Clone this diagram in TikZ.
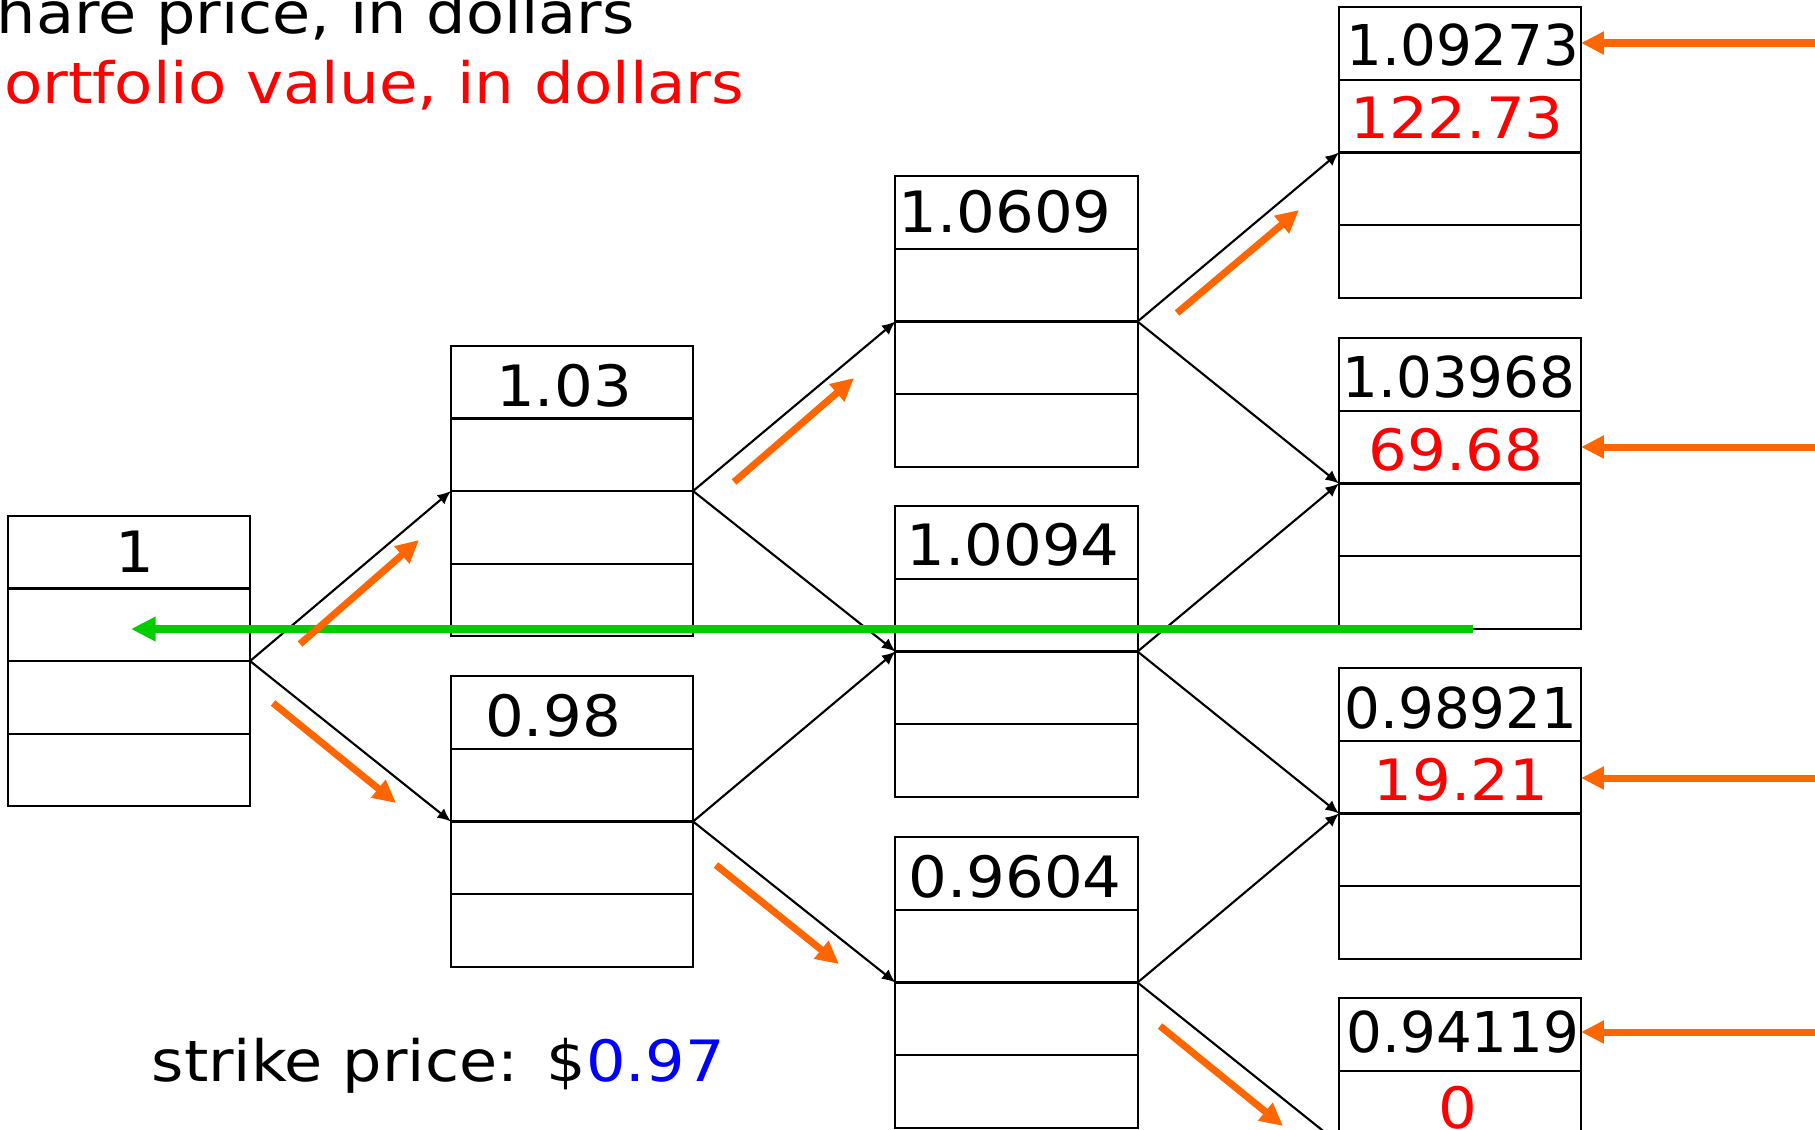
\documentclass[tikz,border=0pt]{standalone}
\usepackage{fontspec}
\setmainfont[FakeStretch=1.09]{DejaVu Sans}
\newfontfamily\numfont[FakeStretch=1.07]{DejaVu Sans}
\newfontfamily\numfontwide[FakeStretch=1.0]{DejaVu Sans}
\newfontfamily\redlblfont[FakeStretch=1.1]{DejaVu Sans}
\usetikzlibrary{calc,arrows.meta}
\definecolor{myorange}{RGB}{255,102,0}
\definecolor{mygreen}{RGB}{0,204,0}
\definecolor{myred}{RGB}{255,0,0}
\definecolor{myblue}{RGB}{0,0,255}
\begin{document}
\begin{tikzpicture}[x=0.01cm,y=-0.01cm,
  font=\fontsize{16.2pt}{19pt}\selectfont,
  box/.style={draw, line width=0.6pt, minimum width=2.42cm, minimum height=2.9cm, inner sep=0pt, outer sep=0pt},
  rowline/.style={line width=0.6pt},
  num/.style={inner sep=0pt, font=\fontsize{16.2pt}{19pt}\numfont},
  numw/.style={inner sep=0pt, font=\fontsize{16pt}{19pt}\numfontwide},
  link/.style={line width=0.6pt, -{Latex[length=3.8pt,width=3.4pt]}},
  oarrow/.style={myorange, line width=2pt, -{Triangle[length=6.5pt,width=6.2pt]}},
  garrow/.style={mygreen, line width=2.2pt, -{Triangle[length=7pt,width=6.6pt]}},
  lbl/.style={inner sep=0pt, anchor=base west}]
\useasboundingbox (0,0) rectangle (1815,1129);

% boxes
\node[box] (b0)  at (129,661) {};
\node[box] (b1u) at (572,491) {};
\node[box] (b1d) at (572,821.5) {};
\node[box] (b2u) at (1016.5,321.5) {};
\node[box] (b2m) at (1016.5,651.5) {};
\node[box] (b2d) at (1016.5,982.5) {};
\node[box] (b3a) at (1460,152.5) {};
\node[box] (b3b) at (1460,483.5) {};
\node[box] (b3c) at (1460,813.5) {};
\node[box] (b3d) at (1460,1143.5) {};
\foreach \n in {b0,b1u,b1d,b2u,b2m,b2d,b3a,b3b,b3c,b3d}
  \foreach \f in {0.25,0.5,0.75}
    \draw[rowline] ($(\n.north west)!\f!(\n.south west)$) -- ($(\n.north east)!\f!(\n.south east)$);

% share prices
\node[num] (t0)  at (135,552) {1};
\node[num] (t1u) at (564,386) {1.03};
\node[num] (t1d) at (553,716) {0.98};
\node[num] (t2u) at (1005,212) {1.0609};
\node[num] (t2m) at (1013,545) {1.0094};
\node[num] (t2d) at (1015,877) {0.9604};
\node[numw] (t3a) at (1463,45) {1.09273};
\node[numw] (t3b) at (1459,377) {1.03968};
\node[numw] (t3c) at (1461,708) {0.98921};
\node[numw] (t3d) at (1463,1032) {0.94119};
% portfolio values
\node[num, text=myred] (v3a) at (1457,118) {122.73};
\node[num, text=myred] (v3b) at (1456,450) {69.68};
\node[num, text=myred] (v3c) at (1461,780) {19.21};
\node[num, text=myred] (v3d) at (1458,1108) {0};

% tree links
\draw[link] (b0.east) -- (b1u.west);
\draw[link] (b0.east) -- (b1d.west);
\draw[link] (b1u.east) -- (b2u.west);
\draw[link] (b1u.east) -- (b2m.west);
\draw[link] (b1d.east) -- (b2m.west);
\draw[link] (b1d.east) -- (b2d.west);
\draw[link] (b2u.east) -- (b3a.west);
\draw[link] (b2u.east) -- (b3b.west);
\draw[link] (b2m.east) -- (b3b.west);
\draw[link] (b2m.east) -- (b3c.west);
\draw[link] (b2d.east) -- (b3c.west);
\draw[link] (b2d.east) -- (b3d.west);

% labels
\node[lbl] (h1) at (-4,33) {hare price, in dollars};
\node[lbl, text=myred, font=\fontsize{16.2pt}{19pt}\redlblfont] (h2) at (3.5,103) {ortfolio value, in dollars};
\node[lbl] (strike) at (151,1081) {strike price:\hspace{0.5em}\$\textcolor{myblue}{0.97}};

% green backward arrow
\coordinate (g1) at (1473,629);
\coordinate (g2) at (131,629);
\draw[garrow] (g1) -- (g2);

% orange diagonal arrows
\coordinate (oa1s) at (300,644);   \coordinate (oa1e) at (419,540);
\coordinate (oa2s) at (273,703);   \coordinate (oa2e) at (396,803);
\coordinate (oa3s) at (734,482);   \coordinate (oa3e) at (854,378);
\coordinate (oa4s) at (716,865);   \coordinate (oa4e) at (839,964);
\coordinate (oa5s) at (1177,313);  \coordinate (oa5e) at (1299,210);
\coordinate (oa6s) at (1160,1026); \coordinate (oa6e) at (1283,1126);
\foreach \i in {1,...,6} \draw[oarrow] (oa\i s) -- (oa\i e);

% orange horizontal arrows
\coordinate (r1) at (1815,43);
\coordinate (r2) at (1815,447);
\coordinate (r3) at (1815,778);
\coordinate (r4) at (1815,1032);
\draw[oarrow] (r1) -- (r1 -| b3a.east);
\draw[oarrow] (r2) -- (r2 -| b3b.east);
\draw[oarrow] (r3) -- (r3 -| b3c.east);
\draw[oarrow] (r4) -- (r4 -| b3d.east);
\end{tikzpicture}
\end{document}
